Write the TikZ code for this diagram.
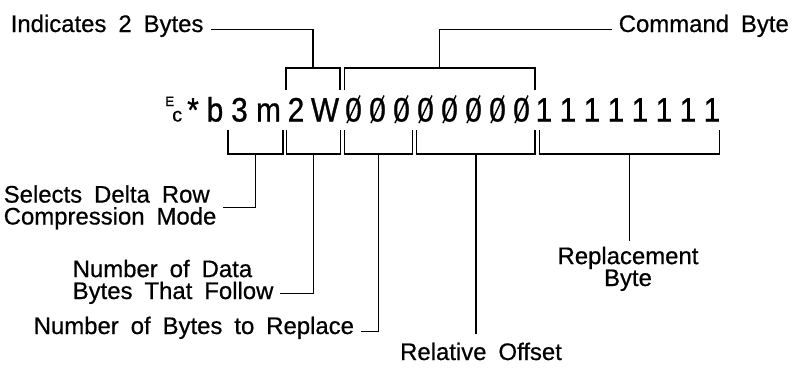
\documentclass[tikz,border=0pt]{standalone}
\usepackage{fontspec}
\setmainfont{Liberation Sans}[WordSpace=1.8,FakeBold=0.6]
\newfontfamily\codefont{Liberation Sans}[FakeStretch=0.88,FakeBold=0.8]
\usepackage{tikz}
\usetikzlibrary{calc,positioning}

\begin{document}
\begin{tikzpicture}[x=1bp,y=-1bp,line width=1.5bp,
  lbl/.style={inner sep=0pt,font=\fontsize{24}{22}\selectfont},
  chr/.style={inner sep=0pt,anchor=base,font=\codefont\fontsize{34}{34}\selectfont}]
  \fill[white] (0,0) rectangle (797,372);
  \def\yb{121.5}% baseline of the command string
  \def\yt{68}\def\yr{90}% top brackets
  \def\yu{130}\def\yl{154}% bottom brackets
  % command string
  \node[inner sep=0pt,anchor=base west,font=\fontsize{13.5}{13.5}\selectfont] (escE) at (164.5,106) {E};
  \node[inner sep=0pt,anchor=base west,font=\fontsize{20}{20}\selectfont] (escC) at (171.5,\yb) {c};
  \node[chr] (star) at (193,\yb) {*};
  \foreach \ch/\x [count=\i] in {b/215,3/239.5,m/268.5,2/296,W/325}
    \node[chr] (c\i) at (\x,\yb) {\ch};
  \foreach \i in {1,...,8}{
    \node[chr] (z\i) at ({353.5+24*(\i-1)},\yb) {0};
    \draw[line width=1.4bp] ($(z\i.base)+(-6.5,1.5)$) -- ($(z\i.base)+(6.5,-26)$);
  }
  \foreach \i in {1,...,8}
    \node[chr] (o\i) at ({544+24*(\i-1)},\yb) {1};
  % top brackets
  \foreach \l/\r/\n in {286/340/t1,344.3/535/t2}{
    \draw (\l,\yr) |- (\r,\yt) -- (\r,\yr);
    \coordinate (\n) at ({(\l+\r)/2},\yt);
  }
  % bottom brackets
  \foreach \l/\r/\n in {228/283/b1,286.7/340.7/b2,344.3/412.7/b3,416.5/535/b4,539.3/719.5/b5}{
    \draw (\l,\yu) |- (\r,\yl) -- (\r,\yu);
    \coordinate (\n) at ({(\l+\r)/2},\yl);
  }
  % labels
  \node[lbl,anchor=base west] (ind) at (10,32) {Indicates 2 Bytes};
  \node[lbl,anchor=base west] (cmd) at (618,32) {Command Byte};
  \node[lbl,anchor=north west,align=left] (sel) at (3,184.5) {Selects Delta Row\\Compression Mode};
  \node[lbl,anchor=north west,align=left] (dat) at (72,259) {Number of Data\\Bytes That Follow};
  \node[lbl,anchor=base west] (rep) at (33,334) {Number of Bytes to Replace};
  \node[lbl,anchor=base] (off) at (481,360) {Relative Offset};
  \node[lbl,anchor=north,align=center] (rpl) at (628,246) {Replacement\\Byte};
  % leaders
  \draw ([xshift=7bp]ind.mid east) -| (t1);
  \draw ([xshift=-6bp]cmd.mid west) -| (t2);
  \draw (b1) |- ([xshift=6bp]sel.east);
  \draw (b2) |- ($(dat.south east)+(6,-11)$);
  \draw (b3) |- ([xshift=6bp]rep.mid east);
  \draw (b4) -- ($(b4 |- off.north)+(0,-8)$);
  \draw (b5) -- ($(b5 |- rpl.north)+(0,-5)$);
\end{tikzpicture}
\end{document}
